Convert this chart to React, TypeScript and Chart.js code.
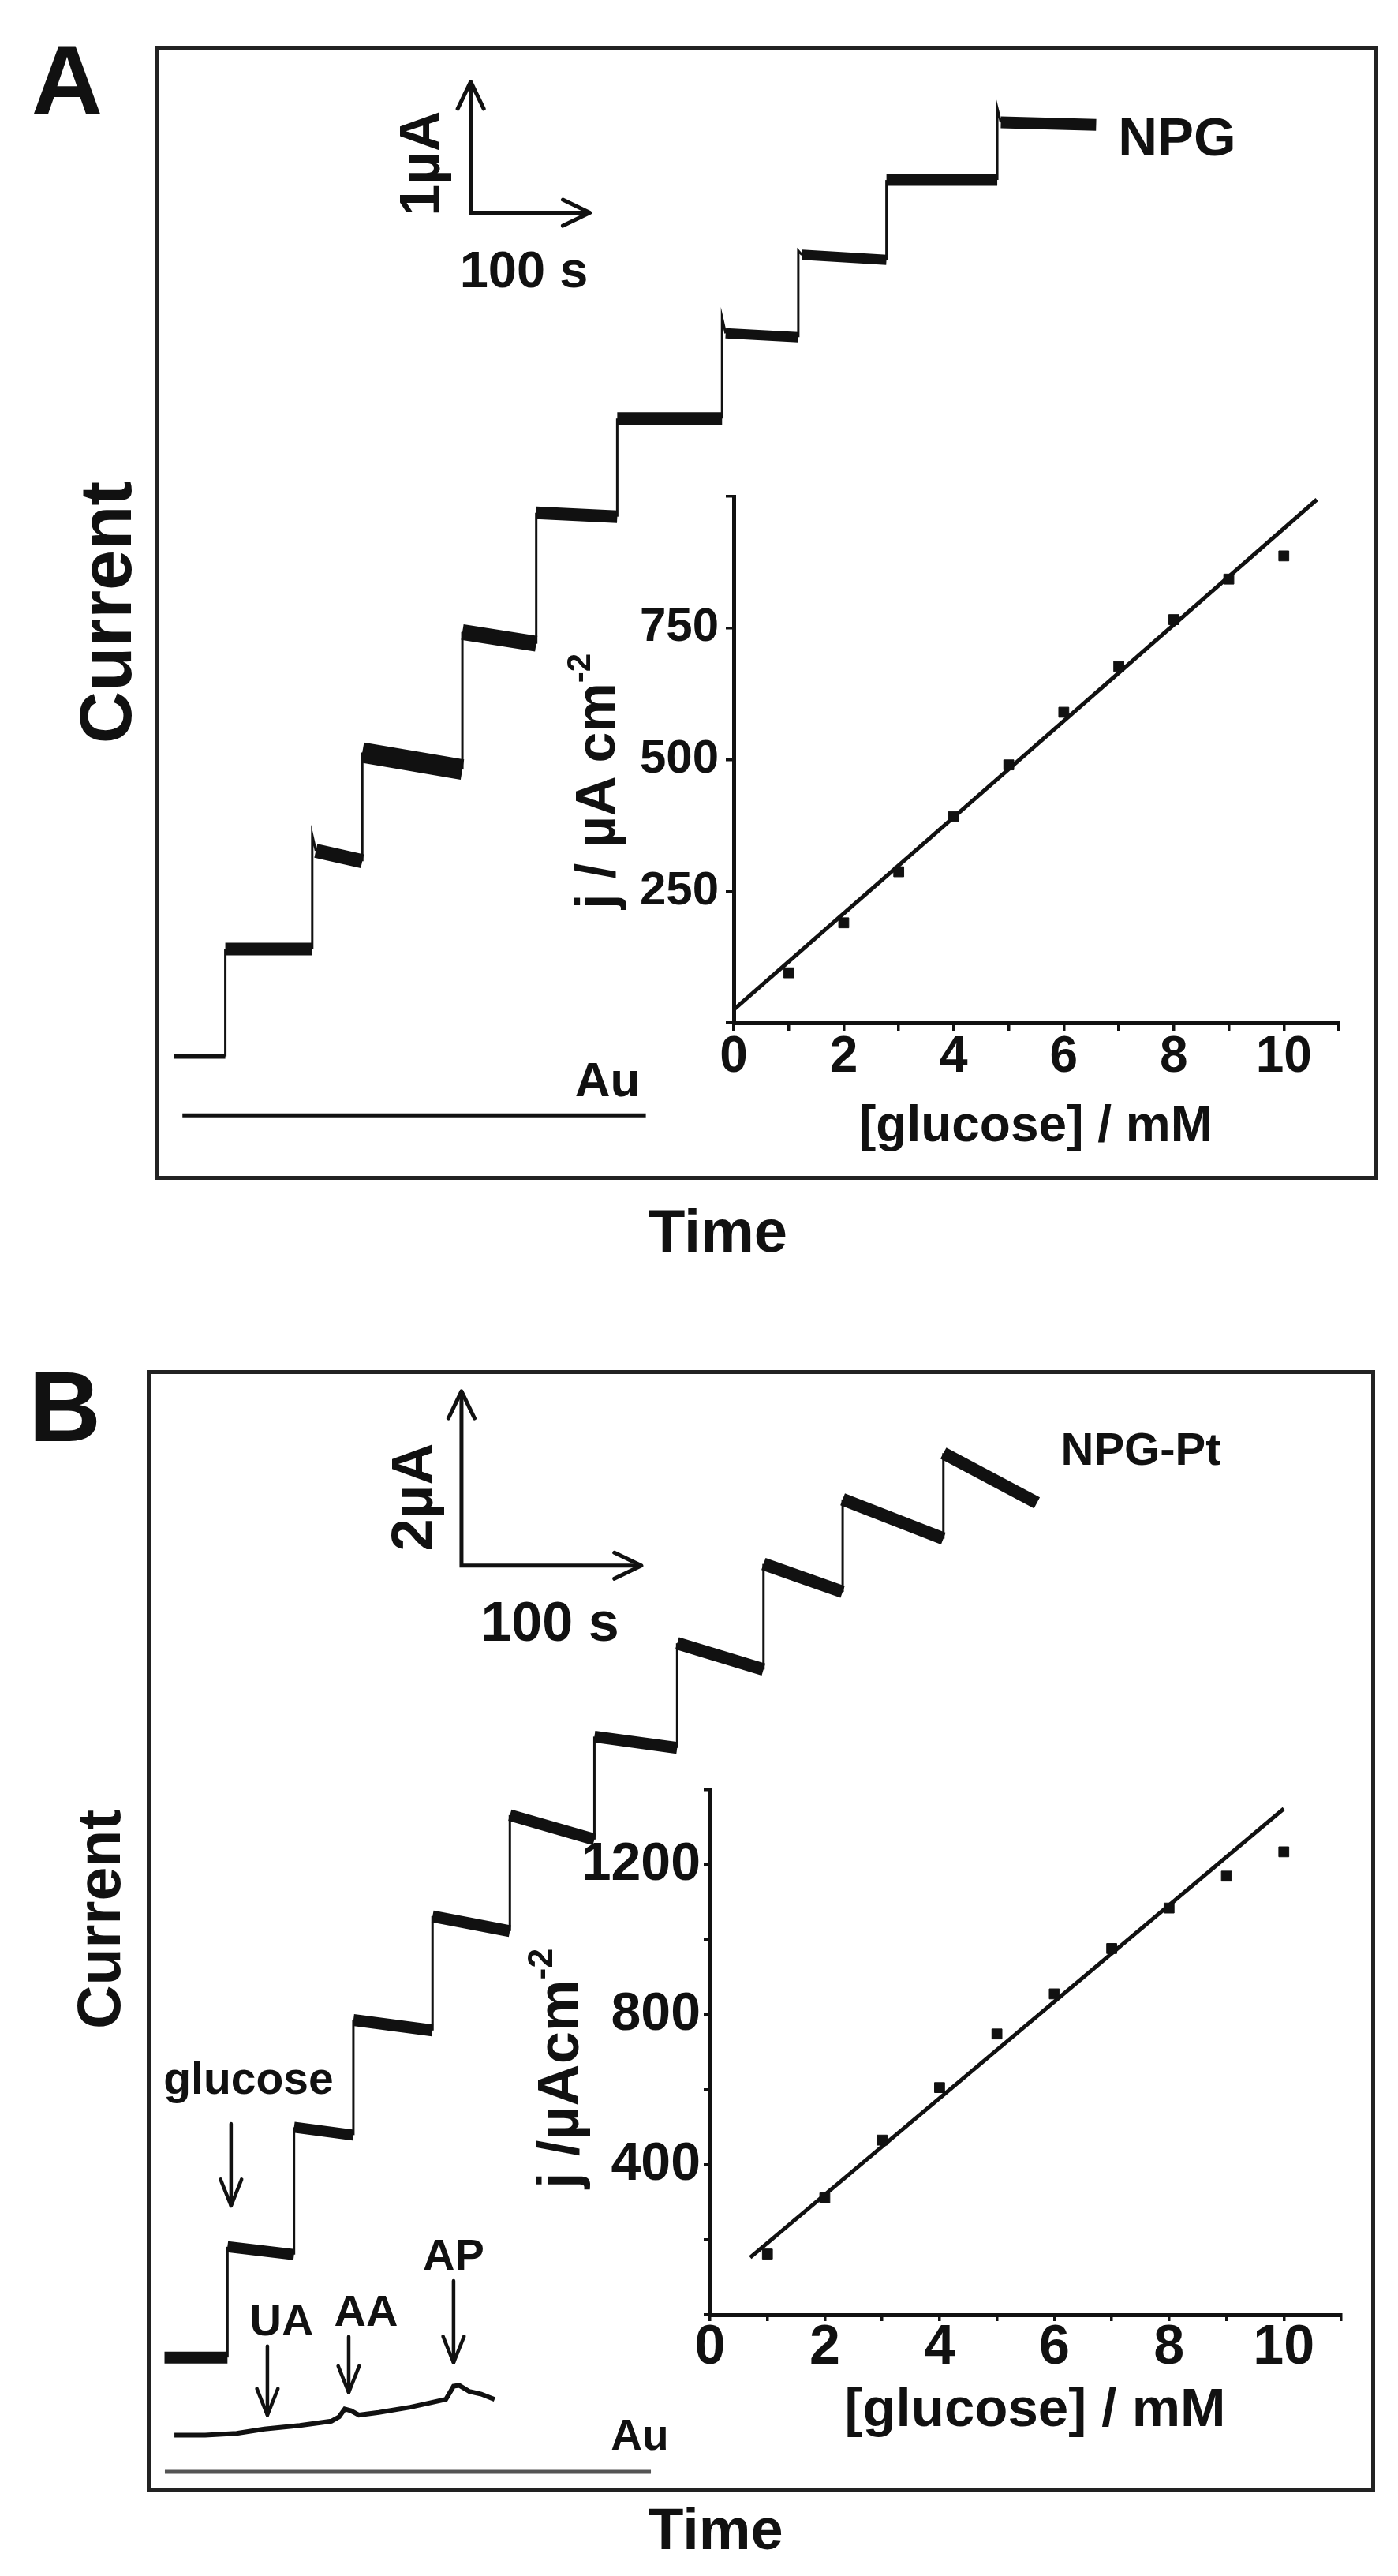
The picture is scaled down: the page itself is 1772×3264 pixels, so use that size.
import React, { useEffect, useRef } from 'react';
import { Chart, registerables } from 'chart.js';

Chart.register(...registerables);

const FONT = '"Liberation Sans", Arial, Helvetica, sans-serif';
const INK = '#111';

// ---------- Panel A : amperometric response of NPG (time / s, current / µA)
const stepTimesA = [15, 58, 131, 173, 257, 319, 387, 475, 539, 613, 706, 789];
const levelStartA = [0.93, 1.75, 2.5, 3.25, 4.17, 5.08, 5.8, 6.45, 7.05, 7.62, 8.06];
const levelEndA = [0.93, 1.75, 2.42, 3.12, 4.08, 5.05, 5.8, 6.42, 7.01, 7.62, 8.04];
const spikeA: (number | null)[] = [null, null, 2.62, null, null, null, null, 6.57, 7.08, null, 8.17];
const bandA = [6, 16, 18, 26, 20, 16, 16, 13, 13, 15, 15];
const auTimesA = [22, 411];
const auLevelA = 0.48;
const scaleBarA = [264, 7.37, 100, 1]; // t, I, 100 s, 1 µA

// ---------- Panel A inset : calibration
const concentration = [1, 2, 3, 4, 5, 6, 7, 8, 9, 10];
const densityA = [95, 190, 287, 392, 490, 590, 677, 766, 843, 887];
const fitA = [0, 25, 10.6, 994]; // x0, y0, x1, y1

// ---------- Panel B : amperometric response of NPG-Pt
const stepTimesB = [9, 44, 81, 114, 158, 201, 248, 294, 342, 386, 442, 494];
const levelStartB = [1.51, 2.78, 4.15, 5.38, 6.57, 7.73, 8.63, 9.7, 10.61, 11.35, 11.88];
const levelEndB = [1.51, 2.69, 4.06, 5.26, 6.4, 7.45, 8.5, 9.4, 10.29, 10.9, 11.31];
const bandB = [15, 14, 14, 15, 15, 15, 15, 16, 16, 16, 16];
const lowerTimesB = [14.5, 31.6, 49.1, 64.5, 84.2, 101.8, 106.1, 109.2, 112.7, 117.1, 128.1, 145.6, 156.6, 165.4, 169.7, 172.8, 178.5, 185.1, 192.5];
const lowerCurrentB = [0.62, 0.62, 0.64, 0.69, 0.73, 0.78, 0.83, 0.92, 0.9, 0.85, 0.88, 0.94, 0.99, 1.03, 1.18, 1.19, 1.12, 1.09, 1.03];
const auTimesB = [9.2, 279.4];
const auLevelB = 0.2;
const scaleBarB = [174.1, 10.59, 100, 2]; // t, I, 100 s, 2 µA
const arrowLabelsB = ['glucose', 'UA', 'AA', 'AP'];
const arrowTimesB = [46, 66.2, 111.4, 169.7];
const arrowFromB = [4.19, 1.64, 1.75, 2.39];
const arrowToB = [3.25, 0.85, 1.11, 1.45];

// ---------- Panel B inset : calibration
const densityB = [162, 312, 466, 606, 749, 856, 977, 1085, 1170, 1235];
const fitB = [0.7, 153, 10.0, 1350];

type Pt = { x: number; y: number; s?: number };

function buildSteps(times: number[], starts: number[], ends: number[], spikes: (number | null)[] | null, settle: number): Pt[] {
  const pts: Pt[] = [];
  for (let i = 0; i < starts.length; i++) {
    const sp = spikes ? spikes[i] : null;
    if (sp != null) {
      pts.push({ x: times[i], y: sp, s: i });
      pts.push({ x: times[i] + settle, y: starts[i], s: i });
    } else {
      pts.push({ x: times[i], y: starts[i], s: i });
    }
    pts.push({ x: times[i + 1], y: ends[i], s: i });
  }
  return pts;
}

function stepDataset(pts: Pt[], bands: number[], thin: number) {
  return {
    data: pts,
    borderColor: INK,
    borderWidth: thin,
    pointRadius: 0,
    borderCapStyle: 'butt',
    borderJoinStyle: 'miter',
    segment: {
      borderWidth: (ctx: any) => {
        const a = ctx.p0;
        const b = ctx.p1;
        if (Math.abs(b.x - a.x) < 8) return thin;
        return bands[pts[ctx.p0DataIndex].s as number];
      },
    },
  };
}

function drawHead(ctx: CanvasRenderingContext2D, x: number, y: number, dx: number, dy: number, len: number, half: number) {
  const ang = Math.atan2(dy, dx);
  ctx.beginPath();
  ctx.moveTo(x - len * Math.cos(ang - half), y - len * Math.sin(ang - half));
  ctx.lineTo(x, y);
  ctx.lineTo(x - len * Math.cos(ang + half), y - len * Math.sin(ang + half));
  ctx.stroke();
}

function annotPlugin(bar: number[], arrowT: number[], arrowFrom: number[], arrowTo: number[]) {
  return {
    id: 'annot',
    afterDatasetsDraw(chart: any) {
      const ctx: CanvasRenderingContext2D = chart.ctx;
      const xs = chart.scales.x;
      const ys = chart.scales.y;
      ctx.save();
      ctx.strokeStyle = INK;
      ctx.lineCap = 'round';
      ctx.lineJoin = 'round';
      ctx.lineWidth = 5;
      const [t, i, dt, di] = bar;
      drawHead(ctx, xs.getPixelForValue(t), ys.getPixelForValue(i + di), 0, -1, 38, 0.45);
      drawHead(ctx, xs.getPixelForValue(t + dt), ys.getPixelForValue(i), 1, 0, 38, 0.45);
      for (let k = 0; k < arrowT.length; k++) {
        const px = xs.getPixelForValue(arrowT[k]);
        const y0 = ys.getPixelForValue(arrowFrom[k]);
        const y1 = ys.getPixelForValue(arrowTo[k]);
        ctx.lineWidth = 4.5;
        ctx.beginPath();
        ctx.moveTo(px, y0);
        ctx.lineTo(px, y1);
        ctx.stroke();
        drawHead(ctx, px, y1, 0, 1, 36, 0.38);
      }
      ctx.restore();
    },
  };
}

function lineData(xs: number[], ys: number[]) {
  return xs.map((x, i) => ({ x, y: ys[i] }));
}

function scaleBarData(bar: number[]) {
  const [t, i, dt, di] = bar;
  return [
    { x: t, y: i + di },
    { x: t, y: i },
    { x: t + dt, y: i },
  ];
}

function mainConfig(datasets: any[], xmax: number, ymax: number, plugin: any): any {
  return {
    type: 'line',
    data: { datasets },
    options: {
      animation: false,
      responsive: false,
      devicePixelRatio: 1,
      events: [],
      layout: { padding: 0 },
      plugins: { legend: { display: false }, tooltip: { enabled: false } },
      scales: {
        x: { type: 'linear', min: 0, max: xmax, display: false },
        y: { type: 'linear', min: 0, max: ymax, display: false },
      },
    },
    plugins: [plugin],
  };
}

const configA = () =>
  mainConfig(
    [
      stepDataset(buildSteps(stepTimesA, levelStartA, levelEndA, spikeA, 3), bandA, 3),
      { data: lineData(auTimesA, [auLevelA, auLevelA]), borderColor: INK, borderWidth: 5, pointRadius: 0 },
      { data: scaleBarData(scaleBarA), borderColor: INK, borderWidth: 5, pointRadius: 0, borderJoinStyle: 'miter' },
    ],
    1547 / 1.51,
    1433 / 166,
    annotPlugin(scaleBarA, [], [], [])
  );

const configB = () =>
  mainConfig(
    [
      stepDataset(buildSteps(stepTimesB, levelStartB, levelEndB, null, 0), bandB, 3),
      { data: lineData(lowerTimesB, lowerCurrentB), borderColor: INK, borderWidth: 6, pointRadius: 0 },
      { data: lineData(auTimesB, [auLevelB, auLevelB]), borderColor: '#555', borderWidth: 5, pointRadius: 0 },
      { data: scaleBarData(scaleBarB), borderColor: INK, borderWidth: 5, pointRadius: 0, borderJoinStyle: 'miter' },
    ],
    1552 / 2.28,
    1416 / 110.5,
    annotPlugin(scaleBarB, arrowTimesB, arrowFromB, arrowToB)
  );

type InsetOpts = {
  density: number[];
  fit: number[];
  yMax: number;
  yStep: number;
  yLabels: number[];
  yWidth: number;
  xHeight: number;
  padTop: number;
  padRight: number;
  xFont: number;
  yFont: number;
  xPad: number;
  yPad: number;
  tickLen: number;
};

function insetConfig(o: InsetOpts): any {
  const axisGrid = { display: true, drawOnChartArea: false, drawTicks: true, tickLength: o.tickLen, color: INK, lineWidth: 3.5 };
  return {
    type: 'line',
    data: {
      datasets: [
        {
          data: lineData(concentration, o.density),
          showLine: false,
          pointStyle: 'rect',
          pointRadius: 9,
          pointBackgroundColor: INK,
          pointBorderColor: INK,
          pointBorderWidth: 1,
        },
        {
          data: [
            { x: o.fit[0], y: o.fit[1] },
            { x: o.fit[2], y: o.fit[3] },
          ],
          borderColor: INK,
          borderWidth: 5,
          pointRadius: 0,
        },
      ],
    },
    options: {
      animation: false,
      responsive: false,
      devicePixelRatio: 1,
      events: [],
      layout: { padding: { left: 0, right: o.padRight, top: o.padTop, bottom: 0 } },
      plugins: { legend: { display: false }, tooltip: { enabled: false } },
      scales: {
        x: {
          type: 'linear',
          min: 0,
          max: 11,
          afterFit: (s: any) => {
            s.height = o.xHeight;
          },
          border: { display: true, color: INK, width: 5 },
          grid: axisGrid,
          ticks: {
            stepSize: 1,
            autoSkip: false,
            maxRotation: 0,
            padding: o.xPad,
            color: INK,
            font: { family: FONT, size: o.xFont, lineHeight: 1, weight: 'bold' },
            callback: (v: number) => (v % 2 === 0 && v <= 10 ? String(v) : ''),
          },
        },
        y: {
          type: 'linear',
          min: 0,
          max: o.yMax,
          afterFit: (s: any) => {
            s.width = o.yWidth;
          },
          border: { display: true, color: INK, width: 5 },
          grid: axisGrid,
          ticks: {
            stepSize: o.yStep,
            autoSkip: false,
            padding: o.yPad,
            color: INK,
            font: { family: FONT, size: o.yFont, lineHeight: 1, weight: 'bold' },
            callback: (v: number) => (o.yLabels.includes(v) ? String(v) : ''),
          },
        },
      },
    },
  };
}

const insetA = () =>
  insetConfig({
    density: densityA,
    fit: fitA,
    yMax: 1000,
    yStep: 250,
    yLabels: [250, 500, 750],
    yWidth: 150,
    xHeight: 184,
    padTop: 21,
    padRight: 23,
    xFont: 64,
    yFont: 60,
    xPad: 2,
    yPad: 9,
    tickLen: 10,
  });

const insetB = () =>
  insetConfig({
    density: densityB,
    fit: fitB,
    yMax: 1400,
    yStep: 200,
    yLabels: [400, 800, 1200],
    yWidth: 160,
    xHeight: 187,
    padTop: 27,
    padRight: 20,
    xFont: 70,
    yFont: 68,
    xPad: 0,
    yPad: 4,
    tickLen: 8,
  });

function ChartCanvas({ left, top, width, height, make }: { left: number; top: number; width: number; height: number; make: () => any }) {
  const ref = useRef<HTMLCanvasElement>(null);
  useEffect(() => {
    const chart = new Chart(ref.current as HTMLCanvasElement, make());
    return () => chart.destroy();
  }, []);
  return <canvas ref={ref} width={width} height={height} style={{ position: 'absolute', left, top, width, height }} />;
}

function Label({ x, y, size, rot, children }: { x: number; y: number; size: number; rot?: boolean; children: React.ReactNode }) {
  return (
    <div
      style={{
        position: 'absolute',
        left: x,
        top: y,
        transform: `translate(-50%, -50%)${rot ? ' rotate(-90deg)' : ''}`,
        fontSize: size,
        fontWeight: 'bold',
        lineHeight: 1,
        whiteSpace: 'nowrap',
        fontFamily: FONT,
        color: INK,
      }}
    >
      {children}
    </div>
  );
}

const Sup = ({ children }: { children: React.ReactNode }) => (
  <span style={{ fontSize: '0.6em', position: 'relative', top: '-0.75em' }}>{children}</span>
);

const box = (left: number, top: number, width: number, height: number) => (
  <div
    style={{
      position: 'absolute',
      left,
      top,
      width,
      height,
      border: '5px solid #222',
      boxSizing: 'border-box',
    }}
  />
);

export default function App() {
  const labelPosB = [
    [315, 2633],
    [357, 2940],
    [464, 2928],
    [575, 2857],
  ];
  return (
    <div style={{ position: 'absolute', left: 0, top: 0, width: 1772, height: 3264, background: '#fff', overflow: 'hidden' }}>
      {/* Panel A */}
      <ChartCanvas left={198} top={60} width={1547} height={1433} make={configA} />
      <ChartCanvas left={780} top={590} width={940} height={890} make={insetA} />
      {box(196, 58, 1551, 1437)}
      <Label x={85} y={102} size={126}>A</Label>
      <Label x={134} y={776} size={92} rot>Current</Label>
      <Label x={910} y={1560} size={76}>Time</Label>
      <Label x={1492} y={173} size={69}>NPG</Label>
      <Label x={532} y={207} size={72} rot>1µA</Label>
      <Label x={664} y={341} size={65}>100 s</Label>
      <Label x={770} y={1368} size={62}>Au</Label>
      <Label x={1313} y={1424} size={64}>[glucose] / mM</Label>
      <Label x={755} y={990} size={70} rot>
        j / µA cm<Sup>-2</Sup>
      </Label>

      {/* Panel B */}
      <ChartCanvas left={188} top={1738} width={1552} height={1416} make={configB} />
      <ChartCanvas left={740} top={2230} width={980} height={890} make={insetB} />
      {box(186, 1736, 1557, 1421)}
      <Label x={82} y={1782} size={127}>B</Label>
      <Label x={125} y={2432} size={77} rot>Current</Label>
      <Label x={907} y={3205} size={74}>Time</Label>
      <Label x={1446} y={1836} size={58}>NPG-Pt</Label>
      <Label x={523} y={1897} size={74} rot>2µA</Label>
      <Label x={697} y={2055} size={70}>100 s</Label>
      {arrowLabelsB.map((t, i) => (
        <Label key={t} x={labelPosB[i][0]} y={labelPosB[i][1]} size={i === 0 ? 57 : 56}>
          {t}
        </Label>
      ))}
      <Label x={811} y={3085} size={55}>Au</Label>
      <Label x={1312} y={3050} size={69}>[glucose] / mM</Label>
      <Label x={708} y={2621} size={74} rot>
        j /µAcm<Sup>-2</Sup>
      </Label>
    </div>
  );
}
